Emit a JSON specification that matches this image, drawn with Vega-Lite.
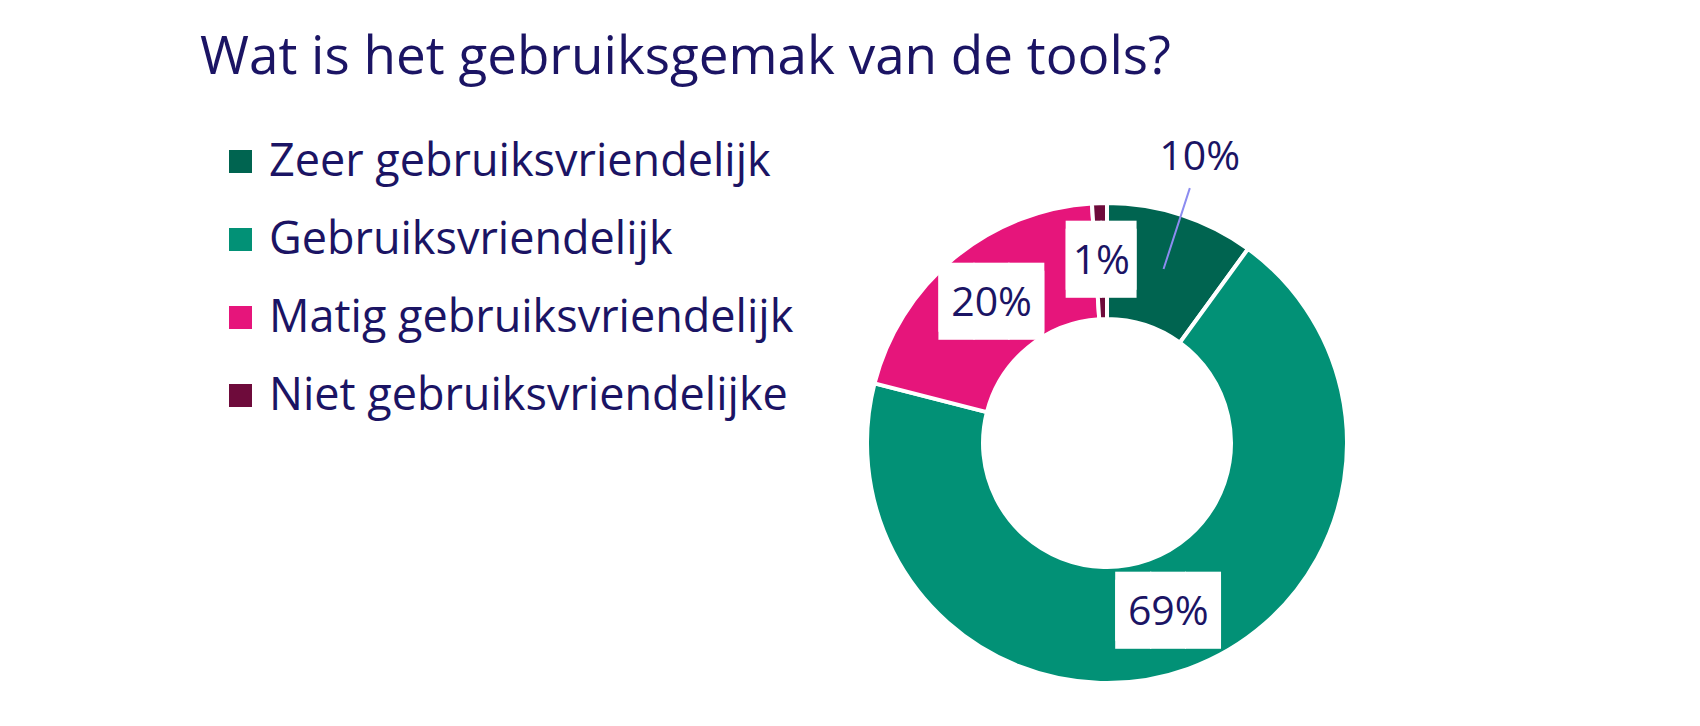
{
  "$schema": "https://vega.github.io/schema/vega-lite/v6.json",
  "autosize": {"type": "none"},
  "padding": {"left": 514, "top": 160, "right": 0, "bottom": 0},
  "width": 1186,
  "height": 566,
  "background": "white",
  "title": {
    "text": "Wat is het gebruiksgemak van de tools?",
    "anchor": "start",
    "frame": "group",
    "font": "Open Sans",
    "fontSize": 53,
    "fontWeight": "normal",
    "color": "#1b1464",
    "dx": -314,
    "dy": -33
  },
  "config": {"view": {"stroke": null}},
  "data": {
    "values": [
      {"Beoordeling": "Zeer gebruiksvriendelijk", "Aandeel": 0.10},
      {"Beoordeling": "Gebruiksvriendelijk", "Aandeel": 0.69},
      {"Beoordeling": "Matig gebruiksvriendelijk", "Aandeel": 0.20},
      {"Beoordeling": "Niet gebruiksvriendelijke", "Aandeel": 0.01}
    ]
  },
  "transform": [
    {"calculate": "indexof(['Zeer gebruiksvriendelijk', 'Gebruiksvriendelijk', 'Matig gebruiksvriendelijk', 'Niet gebruiksvriendelijke'], datum.Beoordeling)", "as": "rang"},
    {"calculate": "format(datum.Aandeel, '.0%')", "as": "label"},
    {"calculate": "pad('', length(datum.label), '█')", "as": "blok"}
  ],
  "encoding": {
    "theta": {"field": "Aandeel", "type": "quantitative", "stack": true},
    "order": {"field": "rang", "type": "quantitative"},
    "detail": {"field": "Beoordeling", "type": "nominal"}
  },
  "layer": [
    {
      "mark": {"type": "arc", "innerRadius": 124, "outerRadius": 240, "stroke": "white", "strokeWidth": 4},
      "encoding": {
        "color": {
          "field": "Beoordeling",
          "type": "nominal",
          "sort": ["Zeer gebruiksvriendelijk", "Gebruiksvriendelijk", "Matig gebruiksvriendelijk", "Niet gebruiksvriendelijke"],
          "scale": {
            "domain": ["Zeer gebruiksvriendelijk", "Gebruiksvriendelijk", "Matig gebruiksvriendelijk", "Niet gebruiksvriendelijke"],
            "range": ["#006450", "#029176", "#e6157b", "#6e0b3b"]
          },
          "legend": {
            "orient": "none",
            "legendX": -296,
            "legendY": -21,
            "title": null,
            "symbolType": "square",
            "symbolSize": 529,
            "symbolStrokeWidth": 0,
            "labelFont": "Open Sans",
            "labelFontSize": 45,
            "labelColor": "#1b1464",
            "labelLimit": 0,
            "labelOffset": 6,
            "rowPadding": 32
          }
        }
      }
    },
    {
      "mark": {"type": "arc", "innerRadius": 183, "outerRadius": 268, "padAngle": 1.5, "fillOpacity": 0, "stroke": "#8c8cf0", "strokeWidth": 2},
      "encoding": {
        "strokeOpacity": {"condition": {"test": "datum.rang == 0", "value": 1}, "value": 0}
      }
    },
    {
      "mark": {"type": "text", "radius": 181, "font": "DejaVu Sans Mono", "fontSize": 58, "baseline": "middle", "align": "center", "color": "white", "dy": -4},
      "encoding": {
        "text": {"field": "blok", "type": "nominal"},
        "opacity": {"condition": {"test": "datum.rang == 0", "value": 0}, "value": 1}
      }
    },
    {
      "mark": {"type": "text", "radius": 181, "font": "DejaVu Sans Mono", "fontSize": 58, "baseline": "middle", "align": "center", "color": "white", "dy": 4},
      "encoding": {
        "text": {"field": "blok", "type": "nominal"},
        "opacity": {"condition": {"test": "datum.rang == 0", "value": 0}, "value": 1}
      }
    },
    {
      "mark": {"type": "text", "radius": 181, "font": "Open Sans", "fontSize": 41, "baseline": "middle", "align": "center", "color": "#1b1464"},
      "encoding": {
        "text": {"field": "label", "type": "nominal"},
        "opacity": {"condition": {"test": "datum.rang == 0", "value": 0}, "value": 1}
      }
    },
    {
      "mark": {"type": "text", "radius": 300, "font": "Open Sans", "fontSize": 41, "baseline": "middle", "align": "center", "color": "#1b1464"},
      "encoding": {
        "text": {"field": "label", "type": "nominal"},
        "opacity": {"condition": {"test": "datum.rang == 0", "value": 1}, "value": 0}
      }
    }
  ]
}
